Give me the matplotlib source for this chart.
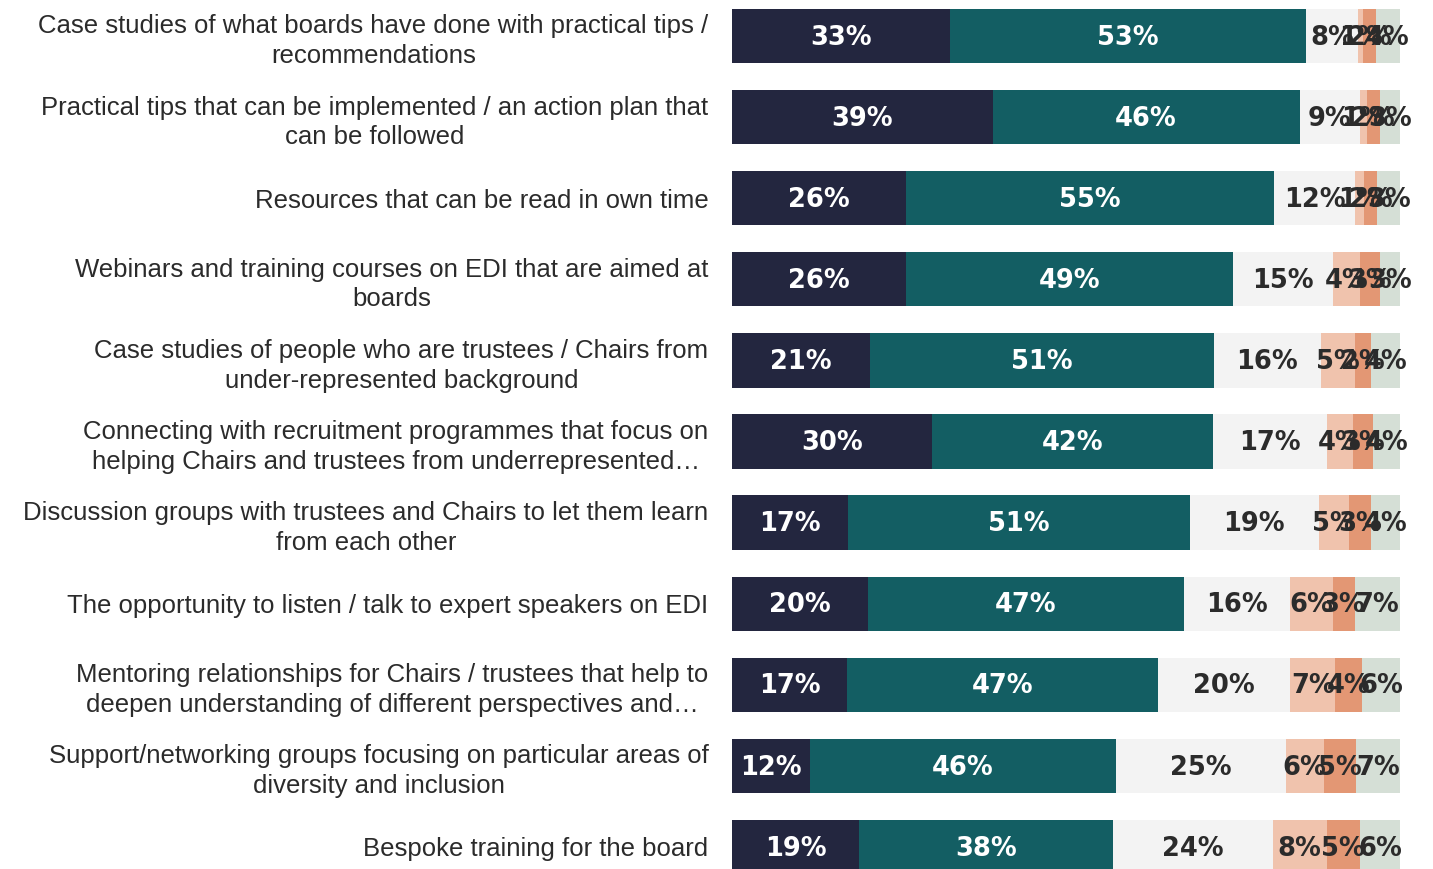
import matplotlib
matplotlib.use("Agg")
import matplotlib.pyplot as plt
import numpy as np

categories = [
    "Case studies of what boards have done with practical tips /\nrecommendations",
    "Practical tips that can be implemented / an action plan that\ncan be followed",
    "Resources that can be read in own time",
    "Webinars and training courses on EDI that are aimed at\nboards",
    "Case studies of people who are trustees / Chairs from\nunder-represented background",
    "Connecting with recruitment programmes that focus on\nhelping Chairs and trustees from underrepresented\u2026",
    "Discussion groups with trustees and Chairs to let them learn\nfrom each other",
    "The opportunity to listen / talk to expert speakers on EDI",
    "Mentoring relationships for Chairs / trustees that help to\ndeepen understanding of different perspectives and\u2026",
    "Support/networking groups focusing on particular areas of\ndiversity and inclusion",
    "Bespoke training for the board",
]

# Share of respondents per answer (percent), one list per answer band
seg1 = [32.6, 39, 26.0, 26, 20.7, 30, 17.4, 20.3, 17.2, 11.7, 19]
seg2 = [53.3, 46, 55.2, 49, 51.4, 42, 51.2, 47.4, 46.6, 45.8, 38]
seg3 = [7.8, 9, 12.1, 15, 16.0, 17, 19.2, 15.8, 19.8, 25.4, 24]
seg4 = [0.8, 1, 1.35, 4, 5.1, 4, 4.6, 6.4, 6.7, 5.7, 8]
seg5 = [1.9, 2, 1.95, 3, 2.4, 3, 3.3, 3.3, 4.0, 4.8, 5]
seg6 = [3.6, 3, 3.4, 3, 4.4, 4, 4.3, 6.8, 5.7, 6.6, 6]

series = [seg1, seg2, seg3, seg4, seg5, seg6]
colors = ["#23263f", "#135e63", "#f3f3f3", "#f0c3ad", "#e39774", "#d5dfd6"]
text_colors = ["white", "white", "#2b2b2b", "#2b2b2b", "#2b2b2b", "#2b2b2b"]

fig = plt.figure(figsize=(14.33, 8.69), dpi=100)
ax = fig.add_axes([732 / 1433, 0, (1400 - 732) / 1433, 1])

y = np.arange(len(categories))
left = np.zeros(len(categories))
for vals, c, tc in zip(series, colors, text_colors):
    vals = np.array(vals, dtype=float)
    ax.barh(y, vals, left=left, height=0.67, color=c, edgecolor="none")
    for yi, (l, v) in enumerate(zip(left, vals)):
        ax.text(l + v / 2, yi + 0.02, f"{v:.0f}%", ha="center", va="center",
                color=tc, fontsize=18.5, fontweight="bold",
                family="DejaVu Sans")
    left += vals

ax.set_xlim(0, 100)
ax.set_ylim((869 - 36) / 81.1, -36 / 81.1)
ax.set_xticks([])
ax.set_yticks(y)
ax.set_yticklabels(categories, fontsize=18.5, family="Liberation Sans",
                   color="#2b2b2b", linespacing=1.3)
ax.tick_params(axis="y", length=0, pad=17)
for lbl in ax.get_yticklabels():
    lbl.set_multialignment("center")
for s in ax.spines.values():
    s.set_visible(False)

fig.savefig("out.png", dpi=100)
